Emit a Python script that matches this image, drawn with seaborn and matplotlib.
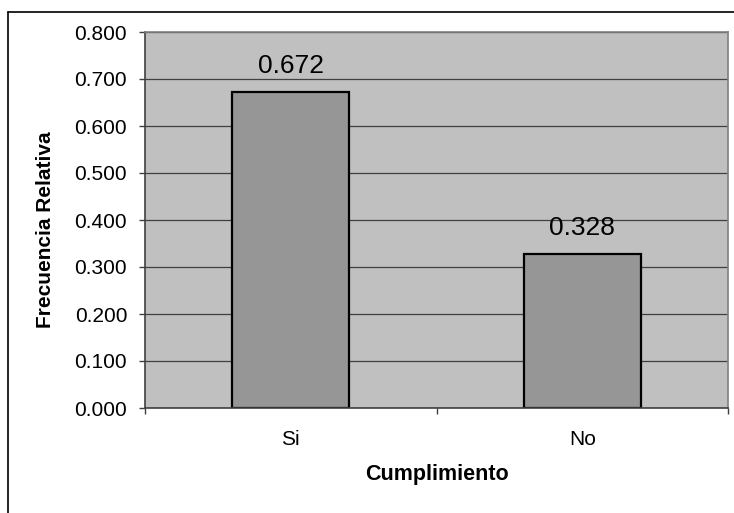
import numpy as np
import pandas as pd
import seaborn as sns
import matplotlib.pyplot as plt
from matplotlib.lines import Line2D
from matplotlib.ticker import FixedLocator, FormatStrFormatter

categorias = ["Si", "No"]
frecuencias = [0.672, 0.328]
y_ticks = [0.0, 0.1, 0.2, 0.3, 0.4, 0.5, 0.6, 0.7, 0.8]

df = pd.DataFrame({"Cumplimiento": categorias, "Frecuencia": frecuencias})

sns.set_style("white")
plt.rcParams['font.family'] = ['Liberation Sans', 'DejaVu Sans']
plt.rcParams['text.color'] = 'black'
plt.rcParams['axes.labelcolor'] = 'black'
plt.rcParams['xtick.color'] = 'black'
plt.rcParams['ytick.color'] = 'black'

W, H = 734, 513
fig = plt.figure(figsize=(W / 100, H / 100), dpi=100)
ax = fig.add_axes([145 / W, (H - 408) / H, (728 - 145) / W, (408 - 32) / H])

sns.barplot(data=df, x="Cumplimiento", y="Frecuencia", color="#969696",
            edgecolor="black", linewidth=1.6, width=0.4, saturation=1, ax=ax)

ax.set_facecolor("#C0C0C0")
ax.set_xlim(-0.5, 1.5)
ax.set_ylim(0, 0.8)
ax.set_yticks(y_ticks)
ax.yaxis.set_major_formatter(FormatStrFormatter("%.3f"))
ax.yaxis.grid(True, color="#404040", linewidth=0.9)
ax.set_axisbelow(True)

ax.tick_params(axis="y", direction="out", length=4.3, width=1, color="#404040",
               labelsize=15, pad=8.5, left=True, labelcolor="black")
ax.tick_params(axis="x", which="major", length=0, labelsize=15, pad=16,
               labelcolor="black")
ax.xaxis.set_minor_locator(FixedLocator([-0.5, 0.5, 1.5]))
ax.tick_params(axis="x", which="minor", direction="out", length=4.3, width=1,
               color="#404040", bottom=True)

for side in ["left", "bottom"]:
    ax.spines[side].set_color("#404040")
    ax.spines[side].set_linewidth(1.2)
for side in ["top", "right"]:
    ax.spines[side].set_color("#808080")
    ax.spines[side].set_linewidth(1.2)

for c in ax.containers:
    ax.bar_label(c, fmt="%.3f", padding=10, fontsize=19, color="black")

ax.set_xlabel("Cumplimiento", fontsize=15.5, fontweight="bold", color="black")
ax.set_ylabel("Frecuencia Relativa", fontsize=15, fontweight="bold", color="black")
ax.xaxis.set_label_coords(0.5, -0.149)
ax.yaxis.set_label_coords(-0.155, 0.473)

# borde del cuadro del grafico
fig.add_artist(Line2D([8 / W, 8 / W], [0, 1 - 12 / H], color="black", lw=1.2))
fig.add_artist(Line2D([8 / W, 1], [1 - 12 / H, 1 - 12 / H], color="black", lw=1.2))

fig.savefig("out.png", dpi=100)
